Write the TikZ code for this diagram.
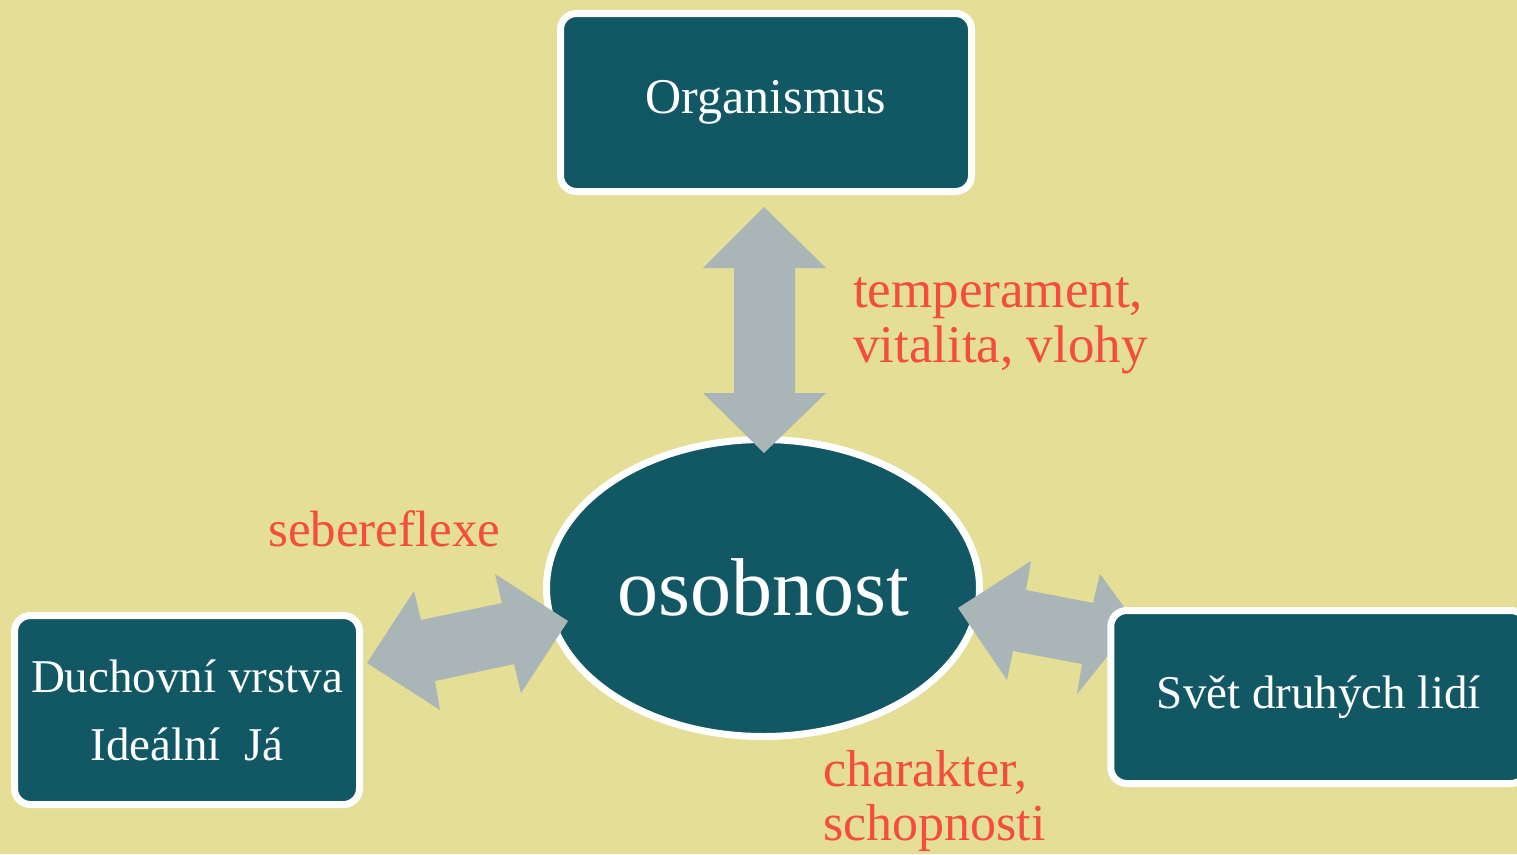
\documentclass[tikz,border=0pt]{standalone}
\usepackage{fontspec}
\setmainfont{Liberation Serif}
\usetikzlibrary{shapes.geometric}
\definecolor{bgc}{RGB}{228,222,150}
\definecolor{tealc}{RGB}{17,88,100}
\definecolor{arrc}{RGB}{169,181,182}
\definecolor{redc}{RGB}{244,76,64}
\tikzset{
  box/.style={draw=white, line width=7pt, fill=tealc, rounded corners=16pt, text=white, inner sep=0pt, align=center},
  blockarrow/.style={fill=arrc, draw=none},
  lbl/.style={text=redc, inner sep=0pt, anchor=base west, align=left, font=\fontsize{53}{56}\selectfont}
}
\begin{document}
\begin{tikzpicture}[x=1pt,y=-1pt]
\useasboundingbox (0,0) rectangle (1517,854);
\fill[bgc] (0,0) rectangle (1517,854);
% central ellipse
\node[ellipse, draw=white, line width=7pt, fill=tealc, minimum width=433pt, minimum height=297pt, inner sep=0pt, text=white,
  font=\fontsize{82}{90}\selectfont] (oso) at (763,588) {\raisebox{2pt}{osobnost}};
% vertical arrow
\fill[blockarrow] (764,207) -- (826,268) -- (795,268) -- (795,393) -- (826,393) -- (764,453)
  -- (703,393) -- (734,393) -- (734,268) -- (703,268) -- cycle;
% left arrow
\fill[blockarrow] (367,663) -- (414,591) -- (421,620) -- (502,603) -- (495,574) -- (568,621)
  -- (521,693) -- (514,664) -- (435,681) -- (440,710) -- cycle;
% right arrow
\fill[blockarrow] (958,608) -- (1031,561) -- (1026,590) -- (1093,603) -- (1100,574) -- (1135,622)
  -- (1077,694) -- (1082,664) -- (1013,651) -- (1007,680) -- cycle;
% boxes
\node[box, minimum width=411pt, minimum height=178pt, font=\fontsize{50}{56}\selectfont] (org) at (766,102.5)
  {Organismus};
\node[box, minimum width=345pt, minimum height=189pt, font=\fontsize{47}{68}\selectfont] (duch) at (187,710)
  {Duchovní vrstva\\Ideální~~Já};
\node[box, minimum width=416pt, minimum height=173pt, font=\fontsize{47}{56}\selectfont] (svet) at (1318.75,697)
  {Svět druhých lidí};
% labels
\node[lbl] (t1) at (853,307) {temperament,};
\node[lbl] (t2) at (853,362) {vitalita, vlohy};
\node[lbl, font=\fontsize{51}{56}\selectfont] (t3) at (268,546) {sebereflexe};
\node[lbl, font=\fontsize{52}{56}\selectfont] (t4) at (823,786) {charakter,};
\node[lbl, font=\fontsize{52}{56}\selectfont] (t5) at (823,840) {schopnosti};
\end{tikzpicture}
\end{document}
